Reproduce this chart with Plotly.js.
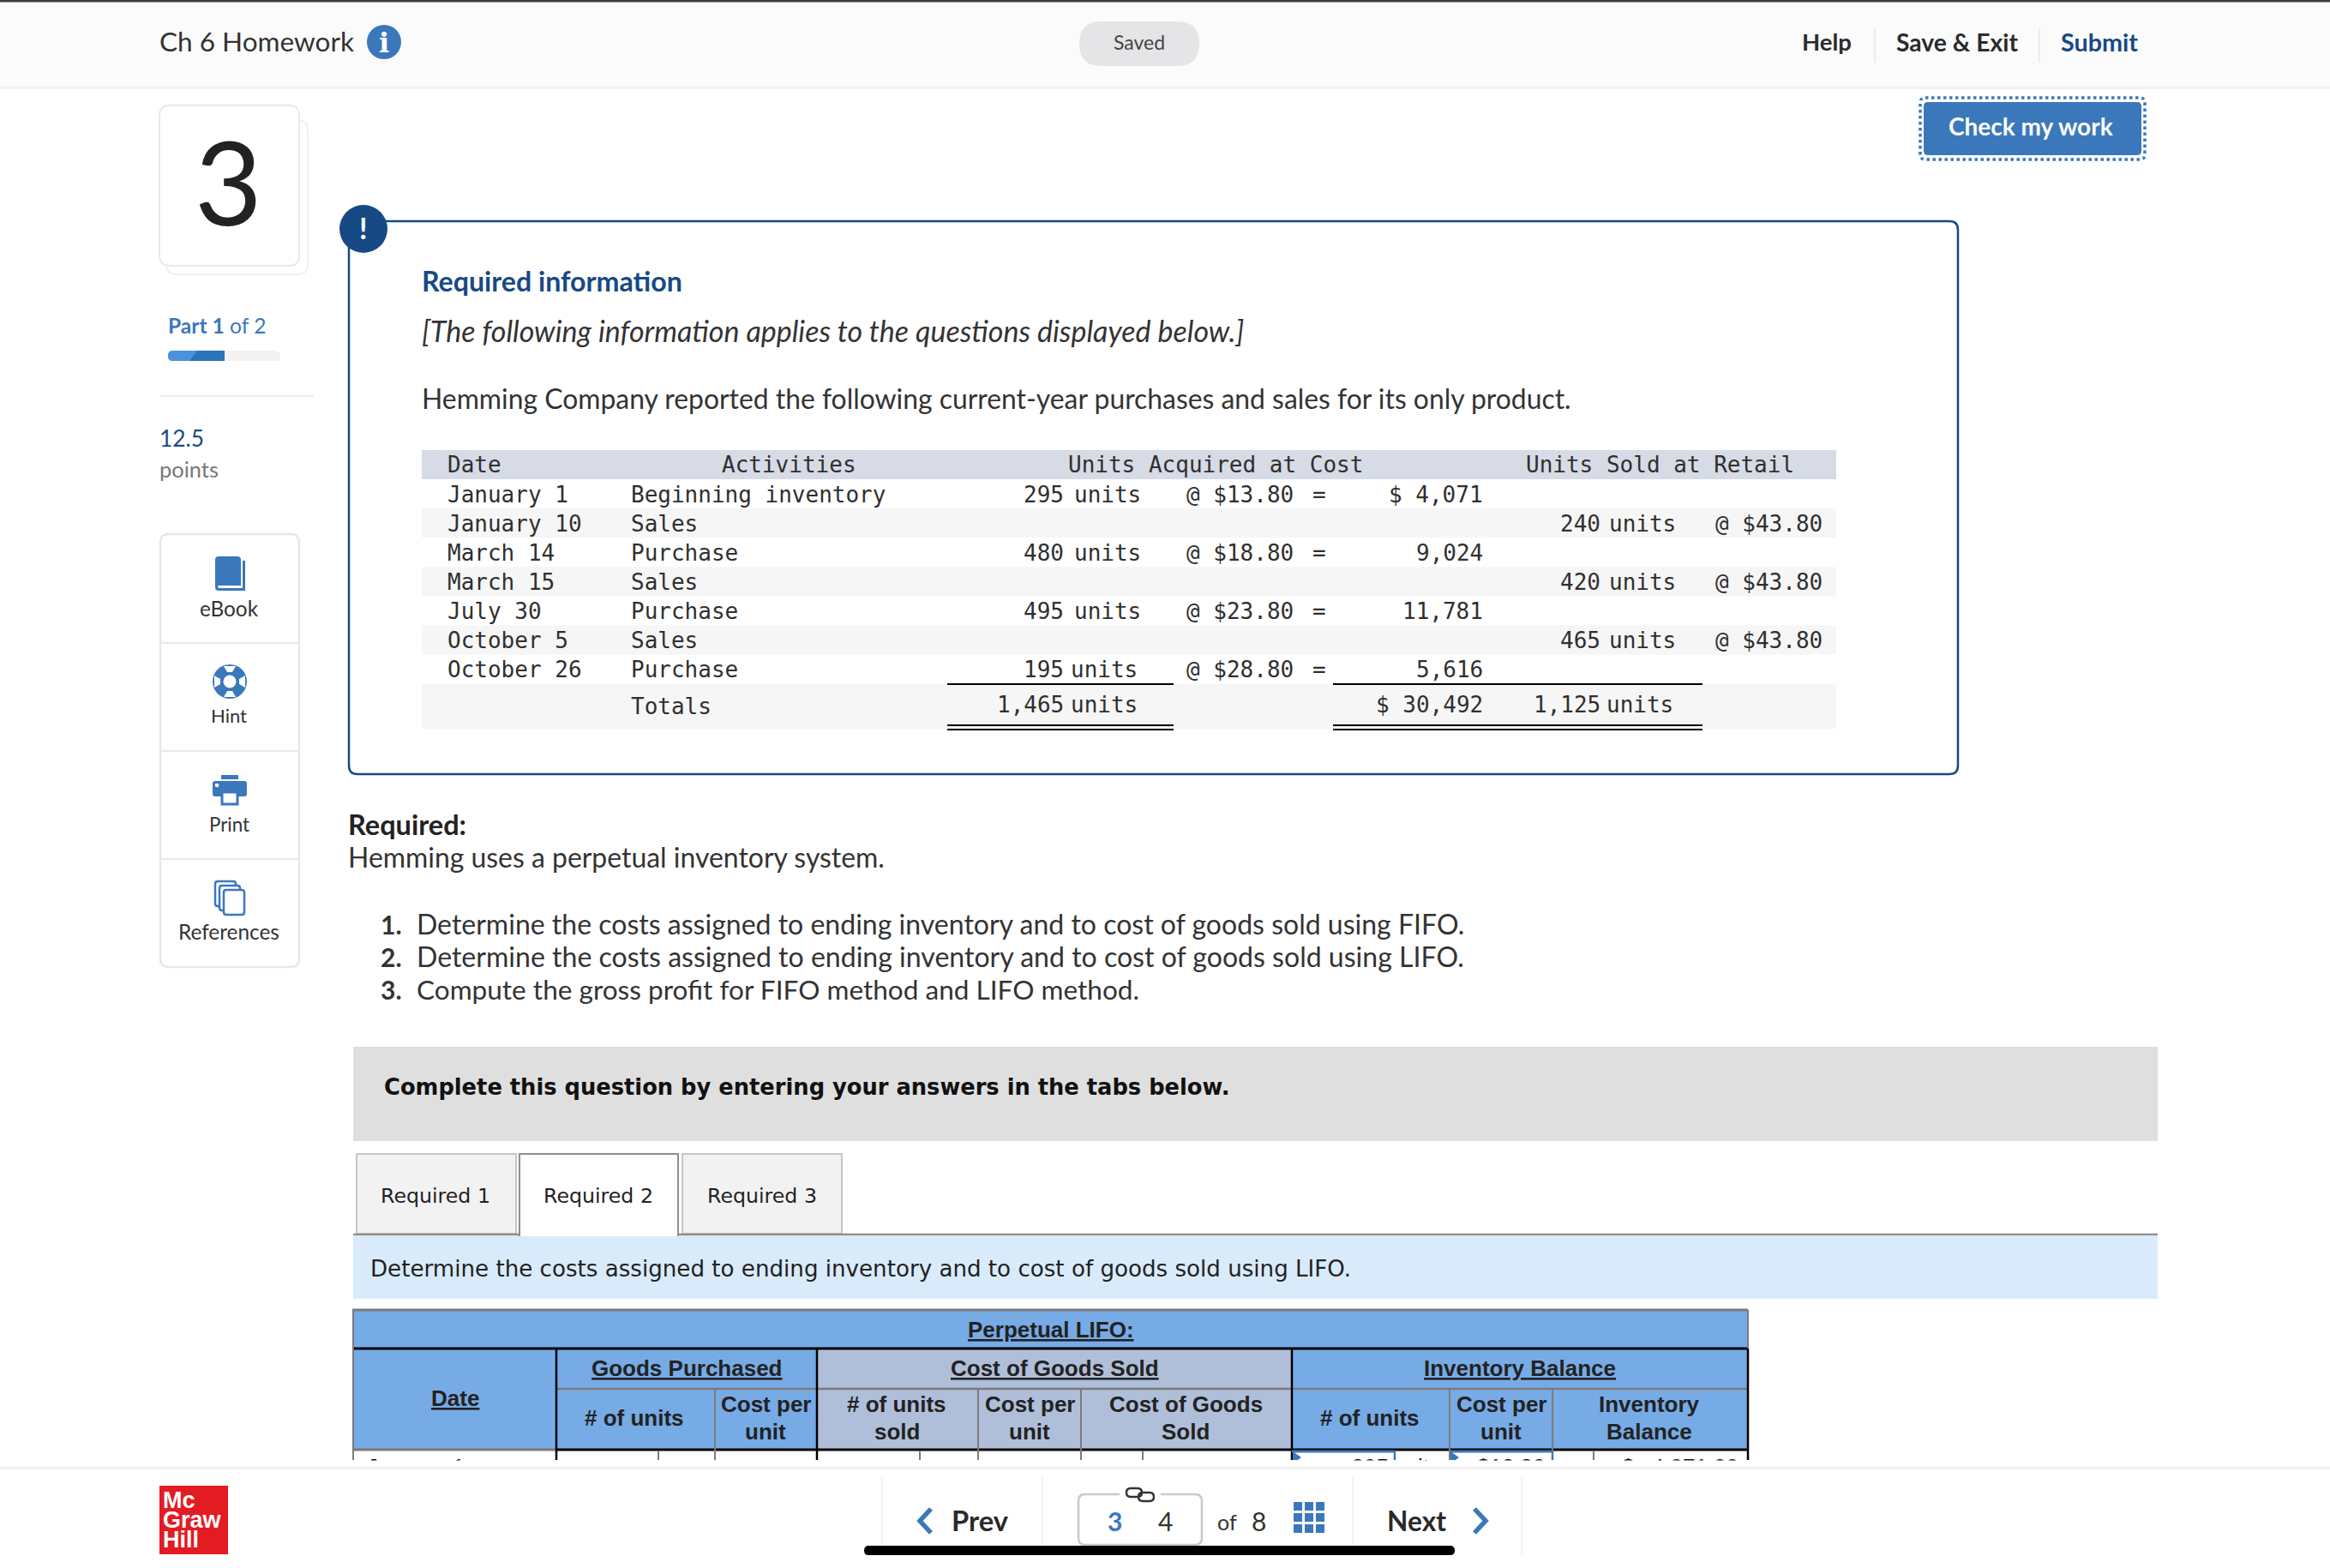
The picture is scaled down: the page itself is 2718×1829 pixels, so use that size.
<!DOCTYPE html>
<html><head><meta charset="utf-8">
<script src="https://cdn.plot.ly/plotly-3.0.1.min.js"></script>
<style>html,body{margin:0;padding:0;background:#fff;overflow:hidden}#c{width:2718px;height:1829px}</style>
</head><body><div id="c"></div>
<script>
// ---- chart content ----
const dates = ["January 1","January 10","March 14","March 15","July 30","October 5","October 26"];
const activities = ["Beginning inventory","Sales","Purchase","Sales","Purchase","Sales","Purchase"];
const unitsAcquired = ["295","","480","","495","","195"];
const unitCosts = ["@ $13.80","","@ $18.80","","@ $23.80","","@ $28.80"];
const amounts = ["$ 4,071","","9,024","","11,781","","5,616"];
const unitsSold = ["","240","","420","","465",""];
const retail = ["","@ $43.80","","@ $43.80","","@ $43.80",""];
const tableHeads = ["Date","Activities","Units Acquired at Cost","Units Sold at Retail"];
const totals = ["Totals","1,465","$ 30,492","1,125"];
const tasks = ["Determine the costs assigned to ending inventory and to cost of goods sold using FIFO.",
  "Determine the costs assigned to ending inventory and to cost of goods sold using LIFO.",
  "Compute the gross profit for FIFO method and LIFO method."];
const taskWidths = [1224,1224,844];
const tabs = ["Required 1","Required 2","Required 3"];
const tools = ["eBook","Hint","Print","References"];
const firstRow = ["January 1","295","units","$13.80","$","4,071.00"];

const sans="Lato", mono="'DejaVu Sans Mono'", dj="'DejaVu Sans'", arial="'Liberation Sans'";
const BLUE="#3b78bb", NAVY="#174a84", INK="#2b2b2b", TBL="#77abe6", TBL2="#b0bfd9";
const cv=document.createElement('canvas').getContext('2d');
function fit(t,w,fam,weight,style){cv.font=`${style||'normal'} ${weight||400} 100px ${fam}`;return 100*w/cv.measureText(t.replace(/<[^>]+>/g,'').replace(/&amp;/g,'&')).width;}
const ann=[],shp=[];
let curLayer='below';
function T(t,x,y,o){o=o||{};const fam=o.fam||sans,wt=o.wt||400,st=o.st||'normal';
  const size=o.w?fit(t,o.w,fam,wt,st):o.size;
  const dy=fam===sans?-1.5:0, dx=fam===mono?1:0;
  ann.push({text:t,x:x+dx,y:y+dy,xref:'x',yref:'y',showarrow:false,xanchor:o.a||'left',yanchor:'middle',borderpad:0,borderwidth:0,
    font:{family:fam,size:size,color:o.c||INK,weight:wt,style:st}});}
function R(x0,y0,x1,y1,fill,line,lw){shp.push({type:'rect',x0,y0,x1,y1,fillcolor:fill||'rgba(0,0,0,0)',line:{color:line||'rgba(0,0,0,0)',width:lw||0},layer:curLayer});}
function L(x0,y0,x1,y1,c,w){shp.push({type:'line',x0,y0,x1,y1,line:{color:c,width:w},layer:curLayer});}
function C(cx,cy,r,fill,line,lw){shp.push({type:'circle',x0:cx-r,x1:cx+r,y0:cy-r,y1:cy+r,fillcolor:fill,line:{color:line||'rgba(0,0,0,0)',width:lw||0},layer:curLayer});}
function P(d,fill,line,lw,dash){shp.push({type:'path',path:d,fillcolor:fill||'rgba(0,0,0,0)',line:{color:line||'rgba(0,0,0,0)',width:lw||0,dash:dash||'solid'},layer:curLayer});}
function rr(x0,y0,x1,y1,r){return `M${x0+r},${y0}L${x1-r},${y0}Q${x1},${y0} ${x1},${y0+r}L${x1},${y1-r}Q${x1},${y1} ${x1-r},${y1}L${x0+r},${y1}Q${x0},${y1} ${x0},${y1-r}L${x0},${y0+r}Q${x0},${y0} ${x0+r},${y0}Z`;}

// ---- top bar ----
R(0,0,2718,101,"#fbfbfb");R(0,0,2718,2.5,"#3d3d3d");R(0,101,2718,104,"#f1f1f1");
T("Ch 6 Homework",186,49,{w:227,c:"#333"});
C(448,49,20,BLUE);T("i",448,50,{size:32,c:"#fff",a:'center',wt:700,fam:"'DejaVu Serif'"});
P(rr(1259,25,1399,77,26),"#e5e4e6");T("Saved",1329,50,{a:'center',c:"#444",w:60});
T("Help",2102,50,{w:58,wt:700});L(2187,33,2187,73,"#ececec",2);
T("Save &amp; Exit",2212,50,{w:142,wt:700});L(2379,33,2379,73,"#ececec",2);
T("Submit",2404,50,{w:90,wt:700,c:NAVY});
P(rr(2240,114,2502,186,6),null,BLUE,3.5,"dot");
P(rr(2244,119,2498,181,5),BLUE);T("Check my work",2273,148,{w:193,wt:700,c:"#fff"});

// ---- left column ----
P(rr(194,140,359,320,12),"#fff","#f0f0f0",2);P(rr(186,123,349,310,12),"#fff","#eaeaea",2);
T("3",266,212,{size:136,a:'center',c:"#222"});
T("<b>Part 1</b> of 2",196,381,{w:114,c:BLUE});
P(rr(196,409,327,421,6),"#f2f2f2");
P("M202,409L262,409L262,421L202,421Q196,421 196,415Q196,409 202,409Z","#2b73bb");
P("M202,409L230,409L221,421L202,421Q196,421 196,415Q196,409 202,409Z","#4a93dc");
L(186,462,366,462,"#eeeeee",2.5);
T("12.5",186,512,{w:52,c:NAVY});T("points",186,548,{w:69,c:"#777"});
P(rr(187,623,349,1128,10),"#fff","#e8e8e8",2.5);
[750,876,1002].forEach(y=>L(187,y,349,y,"#e8e8e8",2));
const toolY=[711,836,963,1088],toolW=[68,42,47,118];
tools.forEach((t,i)=>T(t,267,toolY[i],{a:'center',w:toolW[i],c:"#333"}));
// book
P(rr(251,649,281,681,4),BLUE);
P("M251,676L251,685Q251,689 255,689L286,689L286,654L283,654L283,686L256,686Q254,686 254,684Q254,683 256,683L281,683L281,676Z",BLUE);
// hint
C(268,795,20,BLUE);
P("M261,777L275,777L271,784L265,784Z","#fff");P("M261,813L275,813L271,806L265,806Z","#fff");
P("M250,788L250,802L257,798L257,792Z","#fff");P("M286,788L286,802L279,798L279,792Z","#fff");
C(268,795,7.5,"#fff");
// print
R(258,904,278,909,BLUE);P(rr(248,911,288,929,3),BLUE);C(253,916,2.3,"#fff");
R(259,924,277,938,"#fff",BLUE,3);
// references
P(rr(251,1028,275,1057,3),"#fff",BLUE,2.5);P(rr(256,1033,280,1062,3),"#fff",BLUE,2.5);P(rr(261,1038,285,1067,3),"#fff",BLUE,2.5);

// ---- required information box ----
P(rr(407,258,2284,903,10),"#fff",NAVY,2.5);
C(424,267,28,NAVY);T("!",424,267,{size:34,a:'center',c:"#fff",wt:700});
T("Required information",492,329,{w:304,wt:700,c:NAVY});
T("[The following information applies to the questions displayed below.]",492,387,{w:960,st:'italic',c:"#333"});
T("Hemming Company reported the following current-year purchases and sales for its only product.",492,466,{w:1344,c:"#333"});

// purchase table
const M={fam:mono,size:26,c:"#2f2f2f"};
R(492,525,2142,559,"#d7dbe6");
const rowTop=559,rowH=34.1;
dates.forEach((d,i)=>{const top=rowTop+i*rowH,y=top+17.5;
  if(i%2==1)R(492,top,2142,top+rowH,"#f6f6f6");
  T(d,521,y,M);T(activities[i],735,y,M);
  const short=i==6;
  if(unitsAcquired[i]){T(unitsAcquired[i],1240,y,{...M,a:'right'});T("units",short?1248:1252,y,M);
    T(unitCosts[i],1383,y,M);T("=",1538,y,{...M,a:'center'});T(amounts[i],1729,y,{...M,a:'right'});}
  if(unitsSold[i]){T(unitsSold[i],1866,y,{...M,a:'right'});T("units",1876,y,M);T(retail[i],2000,y,M);}
});
R(492,798,2142,850,"#f6f6f6");
T(tableHeads[0],521,542,M);T(tableHeads[1],841,542,M);T(tableHeads[2],1245,542,M);T(tableHeads[3],1779,542,M);
T(totals[0],735,824,M);T(totals[1],1240,822,{...M,a:'right'});T("units",1248,822,M);
T(totals[2],1729,822,{...M,a:'right'});T(totals[3],1866,822,{...M,a:'right'});T("units",1873,822,M);
[[1105,1369],[1555,1986]].forEach(s=>{L(s[0],798,s[1],798,"#000",2.2);L(s[0],846,s[1],846,"#000",2.2);L(s[0],851,s[1],851,"#000",2.2);});

// ---- required text ----
T("Required:",406,963,{w:138,wt:700,c:"#222"});
T("Hemming uses a perpetual inventory system.",406,1001,{w:627,c:"#333"});
tasks.forEach((t,i)=>{const y=1079+i*38;T((i+1)+".",469,y,{a:'right',size:30,wt:700,c:"#333"});T(t,486,y,{w:taskWidths[i],c:"#333"});});
R(412,1221,2517,1331,"#dfdfdf");
T("Complete this question by entering your answers in the tabs below.",448,1268,{w:987,wt:700,fam:dj,c:"#111"});

// ---- tabs ----
[[416,602],[606,791],[796,982]].forEach((s,i)=>{const on=i==1;
  R(s[0],1346,s[1],on?1441:1439,on?"#fff":"#f2f2f2",on?"#8e8e8e":"#c6c6c6",2);
  });
L(412,1440,606,1440,"#8e8e8e",2.5);L(791,1440,2517,1440,"#8e8e8e",2.5);
R(607,1438,790,1442,"#fff");
tabs.forEach((t,i)=>T(t,[508,698,889][i],1395,{a:'center',w:128,fam:dj,c:"#222"}));
R(412,1442,2517,1515,"#d9ebfb");
T("Determine the costs assigned to ending inventory and to cost of goods sold using LIFO.",432,1480,{w:1145,fam:dj,c:"#222"});

// ---- LIFO table ----
R(412,1528,2039,1690,TBL);R(953,1574,1507,1690,TBL2);
L(411,1528,2039,1528,"#7b7b7b",3);L(412,1573,2039,1573,"#000",3);
L(649,1620,2039,1620,"#7b7b7b",2.5);L(412,1691,649,1691,"#7b7b7b",3);L(649,1691,2039,1691,"#000",3);
[412].forEach(x=>L(x,1528,x,1703,"#7b7b7b",2));
L(2039,1528,2039,1573,"#7b7b7b",2);
[649,953,1507,2039].forEach(x=>L(x,1573,x,1703,"#000",2.5));
[834,1141,1261,1691,1811].forEach(x=>L(x,1620,x,1703,"#7b7b7b",2));
[768,1073,1333,1859].forEach(x=>L(x,1692,x,1703,"#7b7b7b",2));
L(1507,1693,1627,1693,BLUE,3);L(1627,1693,1627,1703,BLUE,2.5);L(1691,1693,1811,1693,BLUE,3);L(1811,1693,1811,1703,BLUE,2.5);
P("M1508,1693L1518,1700L1514,1703L1508,1703Z",BLUE);P("M1692,1693L1702,1700L1698,1703L1692,1703Z",BLUE);
const H={fam:arial,size:26,wt:700,c:"#222",a:'center'};
T("<u>Perpetual LIFO:</u>",1226,1551,H);T("<u>Goods Purchased</u>",801,1596,H);T("<u>Cost of Goods Sold</u>",1230,1596,H);T("<u>Inventory Balance</u>",1773,1596,H);
T("<u>Date</u>",531,1631,H);
T("# of units",740,1654,H);T("# of units",1598,1654,H);
[[893,"Cost per","unit"],[1046,"# of units","sold"],[1201,"Cost per","unit"],[1383,"Cost of Goods","Sold"],[1751,"Cost per","unit"],[1924,"Inventory","Balance"]]
 .forEach(c=>{T(c[1],c[0],1638,H);T(c[2],c[0],1670,H);});

// ---- footer (drawn over the clipped table row) ----
curLayer='above';
R(0,1703.5,2718,1829,"#fff");
R(0,1711,2718,1714,"#f1f1f1");
R(186,1733,266,1813,"#e31b23");
[["Mc",1750],["Graw",1773],["Hill",1796]].forEach(a=>T(a[0],190,a[1],{fam:arial,wt:700,size:27,c:"#fff"}));
[1029,1216,1578,1775].forEach(x=>L(x,1723,x,1813,"#efefef",1.5));
P("M1086,1760L1073,1774L1086,1788",null,BLUE,5.5);
T("Prev",1110,1775,{w:66,wt:700,c:"#2a2a2a"});
P(rr(1258,1743,1402,1802,8),"#fff","#c9c9c9",2.5);
R(1306,1738,1354,1750,"#fff");
P(rr(1314,1736,1332,1746,5),null,"#333",2.4);P(rr(1328,1741,1346,1751,5),null,"#333",2.4);
T("3",1300,1775,{size:30,a:'center',wt:700,c:BLUE});T("4",1359,1775,{size:30,a:'center',c:"#333"});
T("of",1431,1776,{size:25,a:'center',c:"#333"});T("8",1468,1775,{size:30,a:'center',c:"#333"});
[1752,1765,1778].forEach(y=>[1509,1522,1535].forEach(x=>R(x,y,x+10,y+10,BLUE)));
T("Next",1618,1775,{w:69,wt:700,c:"#2a2a2a"});
P("M1720,1760L1733,1774L1720,1788",null,BLUE,5.5);
P(rr(1008,1803,1697,1814,5.5),"#000");

const data=[{type:'scatter',mode:'text',hoverinfo:'skip',showlegend:false,cliponaxis:true,
  x:[428,1620,1625,1723,1892,2028],y:firstRow.map(()=>1713),text:firstRow,
  textposition:['middle right','middle left','middle right','middle right','middle right','middle left'],
  textfont:{family:arial,size:26,color:"#111"}}];
const layout={width:2718,height:1829,margin:{l:0,r:0,t:0,b:0},paper_bgcolor:"#fff",plot_bgcolor:"#fff",showlegend:false,
  xaxis:{range:[0,2718],visible:false,fixedrange:true},yaxis:{range:[1829,0],visible:false,fixedrange:true},
  shapes:shp,annotations:ann};
Plotly.newPlot('c',data,layout,{staticPlot:true,displayModeBar:false});
</script></body></html>
